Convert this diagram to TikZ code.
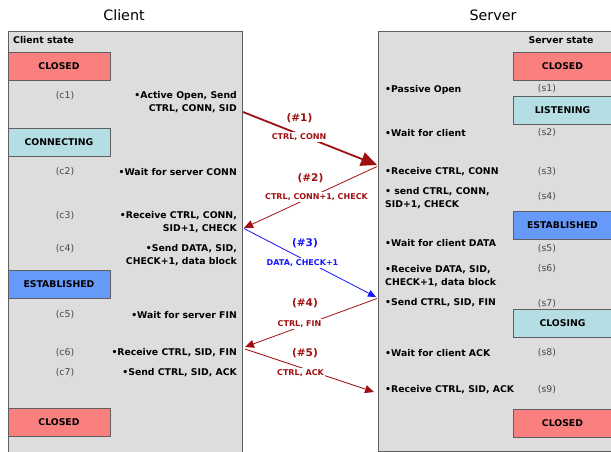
\documentclass[tikz,border=0pt]{standalone}
\usepackage{fontspec}
\setmainfont{DejaVu Sans}
\usetikzlibrary{arrows.meta}

\definecolor{panelgray}{RGB}{221,221,221}
\definecolor{edgegray}{RGB}{95,95,95}
\definecolor{closedred}{RGB}{250,128,128}
\definecolor{waitblue}{RGB}{180,222,228}
\definecolor{estblue}{RGB}{102,153,250}
\definecolor{msgred}{RGB}{160,16,16}
\definecolor{msgblue}{RGB}{20,20,255}
\definecolor{taggray}{RGB}{70,70,70}

\newcommand{\actfont}{\fontsize{9.3}{13}\selectfont\bfseries}

\tikzset{
	panel/.style={draw=edgegray, fill=panelgray, line width=0.8pt},
	state/.style={draw=edgegray, line width=0.8pt, minimum height=28pt, inner sep=0pt, font=\actfont},
	clistate/.style={state, minimum width=102pt},
	srvstate/.style={state, minimum width=99pt},
	act/.style={font=\actfont, inner sep=0pt},
	cliact/.style={act, anchor=east, align=right},
	srvact/.style={act, anchor=west, align=left},
	tag/.style={font=\fontsize{9.3}{11}\selectfont, text=taggray, inner sep=0pt},
	msgno/.style={font=\fontsize{10.5}{12}\selectfont\bfseries, fill=white, inner sep=1.5pt},
	msgtxt/.style={font=\fontsize{8}{10}\selectfont\bfseries, fill=white, inner sep=1.5pt},
	redmsg/.style={draw=msgred, line width=0.8pt, -{Triangle[length=9pt,width=8pt]}},
	bluemsg/.style={draw=msgblue, line width=0.8pt, -{Triangle[length=8pt,width=7pt]}}
}

\begin{document}
\begin{tikzpicture}[x=1pt, y=-1pt]
	%%%%% START %%%%%
	\useasboundingbox (0,0) rectangle (611,452);
	\clip (0,0) rectangle (611,452);

	% titles
	\node[font=\fontsize{14.3}{16}\selectfont] (clienttitle) at (124,15) {Client};
	\node[font=\fontsize{14.3}{16}\selectfont] (servertitle) at (493,15) {Server};

	% the two panels
	\draw[panel] (8,31) rectangle (242,460);
	\draw[panel] (378,31) rectangle (615,451);

	\node[act, anchor=west] (clihead) at (13,40) {Client state};
	\node[act] (srvhead) at (561,40) {Server state};

	% client side states
	\node[clistate, fill=closedred] (cclosed) at (59,66) {CLOSED};
	\node[clistate, fill=waitblue] (cconnecting) at (59,142.5) {CONNECTING};
	\node[clistate, fill=estblue] (cestablished) at (59,284.5) {ESTABLISHED};
	\node[clistate, fill=closedred] (cclosedend) at (59,422) {CLOSED};

	% server side states
	\node[srvstate, fill=closedred] (sclosed) at (562.5,66) {CLOSED};
	\node[srvstate, fill=waitblue] (slistening) at (562.5,110.5) {LISTENING};
	\node[srvstate, fill=estblue] (sestablished) at (562.5,225) {ESTABLISHED};
	\node[srvstate, fill=waitblue] (sclosing) at (562.5,323.5) {CLOSING};
	\node[srvstate, fill=closedred] (sclosedend) at (562.5,423) {CLOSED};

	% client steps
	\node[tag] (c1) at (65,96) {(c1)};
	\node[cliact] (ca1) at (237,102.5) {•Active Open, Send\\CTRL, CONN, SID};
	\node[tag] (c2) at (65,172) {(c2)};
	\node[cliact] (ca2) at (237,172) {•Wait for server CONN};
	\node[tag] (c3) at (65,216) {(c3)};
	\node[cliact] (ca3) at (237,222.5) {•Receive CTRL, CONN,\\SID+1, CHECK};
	\node[tag] (c4) at (65,249) {(c4)};
	\node[cliact] (ca4) at (237,255.5) {•Send DATA, SID,\\CHECK+1, data block};
	\node[tag] (c5) at (65,315) {(c5)};
	\node[cliact] (ca5) at (237,315) {•Wait for server FIN};
	\node[tag] (c6) at (65,353) {(c6)};
	\node[cliact] (ca6) at (237,353) {•Receive CTRL, SID, FIN};
	\node[tag] (c7) at (65,373) {(c7)};
	\node[cliact] (ca7) at (237,373) {•Send CTRL, SID, ACK};

	% server steps
	\node[srvact] (sa1) at (385,90) {•Passive Open};
	\node[tag] (s1) at (547,89) {(s1)};
	\node[srvact] (sa2) at (385,133) {•Wait for client};
	\node[tag] (s2) at (547,133) {(s2)};
	\node[srvact] (sa3) at (385,172) {•Receive CTRL, CONN};
	\node[tag] (s3) at (547,172) {(s3)};
	\node[srvact] (sa4) at (385,198.5) {• send CTRL, CONN,\\SID+1, CHECK};
	\node[tag] (s4) at (547,197) {(s4)};
	\node[srvact] (sa5) at (385,243) {•Wait for client DATA};
	\node[tag] (s5) at (547,249) {(s5)};
	\node[srvact] (sa6) at (385,276) {•Receive DATA, SID,\\CHECK+1, data block};
	\node[tag] (s6) at (547,269) {(s6)};
	\node[srvact] (sa7) at (385,303) {•Send CTRL, SID, FIN};
	\node[tag] (s7) at (547,304) {(s7)};
	\node[srvact] (sa8) at (385,353) {•Wait for client ACK};
	\node[tag] (s8) at (547,353) {(s8)};
	\node[srvact] (sa9) at (385,390) {•Receive CTRL, SID, ACK};
	\node[tag] (s9) at (547,390) {(s9)};

	% message ends on the panel borders
	\coordinate (cp1) at (243,112);
	\coordinate (sp1) at (377,165);
	\coordinate (sp2) at (377,166.5);
	\coordinate (cp2) at (244,228);
	\coordinate (cp3) at (244,228.5);
	\coordinate (sp3) at (376,297);
	\coordinate (sp4) at (377,298.5);
	\coordinate (cp4) at (245,347);
	\coordinate (cp5) at (245,349);
	\coordinate (sp5) at (374,392);

	% messages
	\draw[redmsg, line width=1.8pt, -{Triangle[length=16pt,width=14pt]}] (cp1) -- (sp1);
	\draw[redmsg] (sp2) -- (cp2);
	\draw[bluemsg] (cp3) -- (sp3);
	\draw[redmsg] (sp4) -- (cp4);
	\draw[redmsg] (cp5) -- (sp5);

	\node[msgno, text=msgred] (m1) at (299.5,118) {(\#1)};
	\node[msgtxt, text=msgred] (t1) at (299,137) {CTRL, CONN};
	\node[msgno, text=msgred] (m2) at (310.5,178) {(\#2)};
	\node[msgtxt, text=msgred] (t2) at (316.5,197) {CTRL, CONN+1, CHECK};
	\node[msgno, text=msgblue] (m3) at (305,243) {(\#3)};
	\node[msgtxt, text=msgblue] (t3) at (302.5,263) {DATA, CHECK+1};
	\node[msgno, text=msgred] (m4) at (305,303) {(\#4)};
	\node[msgtxt, text=msgred] (t4) at (299.5,324) {CTRL, FIN};
	\node[msgno, text=msgred] (m5) at (305,353) {(\#5)};
	\node[msgtxt, text=msgred] (t5) at (300.5,373) {CTRL, ACK};
	%%%%% END %%%%%
\end{tikzpicture}
\end{document}
